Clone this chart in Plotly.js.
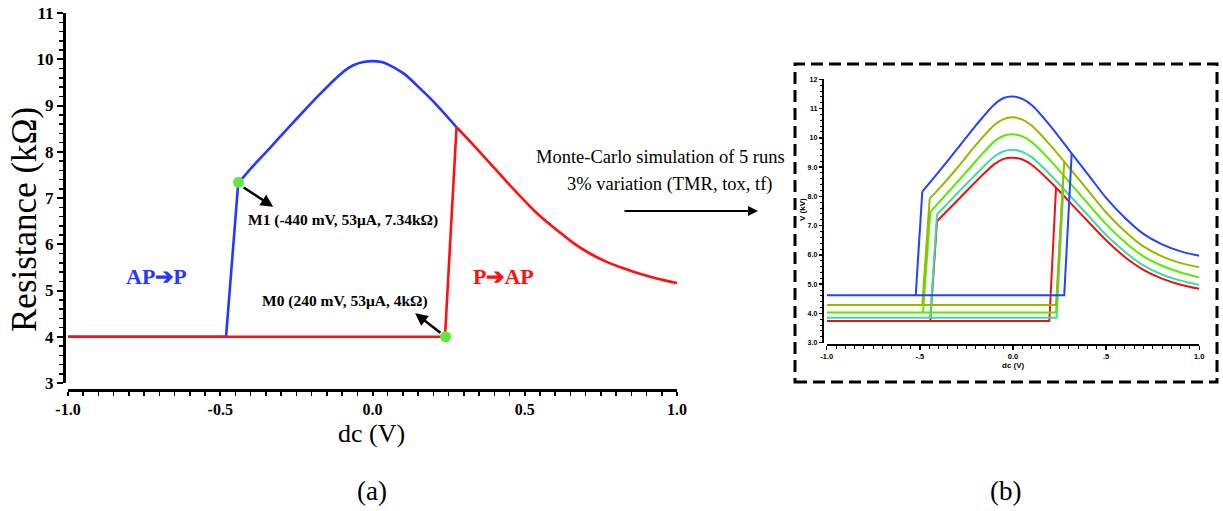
<!DOCTYPE html>
<html>
<head>
<meta charset="utf-8">
<script src="https://cdn.plot.ly/plotly-3.0.1.min.js"></script>
<style>html,body{margin:0;padding:0;background:#fff;}#chart{width:1223px;height:511px;}</style>
</head>
<body>
<div id="chart"></div>
<script>
// ---- Panel (a): measured resistance hysteresis ----
const apToPX = [-1.0, -0.481, -0.441, -0.391, -0.337, -0.282, -0.227, -0.172, -0.118, -0.09, -0.063, -0.03, 0.0, 0.03, 0.047, 0.101, 0.156, 0.211, 0.276];
const apToPY = [4.0, 4.0, 7.32, 7.70, 8.08, 8.48, 8.87, 9.25, 9.60, 9.76, 9.87, 9.94, 9.96, 9.94, 9.90, 9.70, 9.37, 9.01, 8.53];
const pToApX = [-1.0, 0.238, 0.276, 0.331, 0.386, 0.441, 0.495, 0.550, 0.605, 0.659, 0.714, 0.769, 0.824, 0.878, 0.933, 1.0];
const pToApY = [4.0, 4.0, 8.53, 8.15, 7.75, 7.35, 6.97, 6.61, 6.31, 6.03, 5.80, 5.62, 5.48, 5.36, 5.26, 5.16];
const markerX = [-0.44, 0.24];
const markerY = [7.34, 4.0];
const mainXTicks = [-1, -0.5, 0, 0.5, 1];
const mainXTickText = ['-1.0', '-0.5', '0.0', '0.5', '1.0'];
const mainYTicks = [3, 4, 5, 6, 7, 8, 9, 10, 11];
const mainYTickText = ['3', '4', '5', '6', '7', '8', '9', '10', '11'];

// ---- Panel (b): Monte-Carlo, 5 runs ----
// each run: [low line start, right switch bottom, right switch top, null, left switch bottom, left switch top, curve ...]
const mcBlueX = [-1.0, 0.275, 0.315, null, -0.522, -0.487, -0.4, -0.3, -0.2, -0.1, -0.05, 0, 0.05, 0.1, 0.2, 0.3, 0.4, 0.5, 0.6, 0.7, 0.8, 0.9, 1.0];
const mcBlueY = [4.62, 4.62, 9.47, null, 4.62, 8.16, 8.83, 9.62, 10.42, 11.14, 11.36, 11.41, 11.33, 11.12, 10.41, 9.59, 8.77, 7.95, 7.27, 6.72, 6.36, 6.12, 5.97];
const mcOliveX = [-1.0, 0.231, 0.275, null, -0.487, -0.447, -0.4, -0.3, -0.2, -0.1, -0.05, 0, 0.05, 0.1, 0.2, 0.3, 0.4, 0.5, 0.6, 0.7, 0.8, 0.9, 1.0];
const mcOliveY = [4.29, 4.29, 9.18, null, 4.29, 7.93, 8.24, 8.97, 9.75, 10.44, 10.64, 10.70, 10.62, 10.42, 9.75, 8.99, 8.22, 7.45, 6.81, 6.29, 5.95, 5.72, 5.58];
const mcGreenX = [-1.0, 0.231, 0.27, null, -0.483, -0.444, -0.4, -0.3, -0.2, -0.1, -0.05, 0, 0.05, 0.1, 0.2, 0.3, 0.4, 0.5, 0.6, 0.7, 0.8, 0.9, 1.0];
const mcGreenY = [4.03, 4.03, 8.72, null, 4.03, 7.46, 7.78, 8.48, 9.20, 9.88, 10.07, 10.12, 10.05, 9.86, 9.23, 8.50, 7.77, 7.05, 6.44, 5.95, 5.63, 5.40, 5.23];
const mcTealX = [-1.0, 0.234, 0.27, null, -0.444, -0.408, -0.4, -0.3, -0.2, -0.1, -0.05, 0, 0.05, 0.1, 0.2, 0.3, 0.4, 0.5, 0.6, 0.7, 0.8, 0.9, 1.0];
const mcTealY = [3.85, 3.85, 8.26, null, 3.85, 7.39, 7.44, 8.10, 8.75, 9.36, 9.54, 9.59, 9.52, 9.34, 8.74, 8.06, 7.37, 6.68, 6.11, 5.64, 5.33, 5.12, 4.97];
const mcRedX = [-1.0, 0.195, 0.231, null, -0.444, -0.408, -0.4, -0.3, -0.2, -0.1, -0.05, 0, 0.05, 0.1, 0.2, 0.3, 0.4, 0.5, 0.6, 0.7, 0.8, 0.9, 1.0];
const mcRedY = [3.74, 3.74, 8.31, null, 3.74, 7.14, 7.20, 7.85, 8.50, 9.10, 9.28, 9.32, 9.26, 9.08, 8.50, 7.83, 7.16, 6.50, 5.93, 5.49, 5.19, 4.98, 4.84];
const mcXTicks = [-1, -0.5, 0, 0.5, 1];
const mcXTickText = ['-1.0', '-.5', '0.0', '.5', '1.0'];
const mcYTicks = [3, 4, 5, 6, 7, 8, 9, 10, 11, 12];
const mcYTickText = ['3.0', '4.0', '5.0', '6.0', '7.0', '8.0', '9.0', '10', '11', '12'];

const W = 1223, H = 511;
const px = v => v / W;
const py = v => (H - v) / H;
const SERIF = 'Liberation Serif, Times New Roman, serif';
const SANS = 'Liberation Sans, Arial, sans-serif';

function minorVals(a, b, step) {
  const out = [];
  const n = Math.round((b - a) / step);
  for (let i = 0; i <= n; i++) out.push(+(a + i * step).toFixed(4));
  return out;
}

const traces = [];
function addLoop(xs, ys, xa, ya, color, width, curveStart) {
  traces.push({x: xs.slice(0, curveStart + 1), y: ys.slice(0, curveStart + 1), xaxis: xa, yaxis: ya,
    mode: 'lines', connectgaps: false, line: {color: color, width: width}, hoverinfo: 'skip'});
  traces.push({x: xs.slice(curveStart), y: ys.slice(curveStart), xaxis: xa, yaxis: ya,
    mode: 'lines', line: {color: color, width: width, shape: 'spline', smoothing: 0.9}, hoverinfo: 'skip'});
}
addLoop(apToPX, apToPY, 'x', 'y', '#2438ff', 2.6, 2);
addLoop(pToApX, pToApY, 'x', 'y', '#ff1010', 2.6, 2);
traces.push({x: markerX, y: markerY, xaxis: 'x', yaxis: 'y', mode: 'markers', marker: {color: '#62e83c', size: 11}, hoverinfo: 'skip'});
addLoop(mcRedX, mcRedY, 'x2', 'y2', '#ee1111', 2, 5);
addLoop(mcTealX, mcTealY, 'x2', 'y2', '#3ddba8', 2, 5);
addLoop(mcGreenX, mcGreenY, 'x2', 'y2', '#5aea00', 2, 5);
addLoop(mcOliveX, mcOliveY, 'x2', 'y2', '#99b800', 2, 5);
addLoop(mcBlueX, mcBlueY, 'x2', 'y2', '#2244ff', 2, 5);

const axisCommon = {showgrid: false, zeroline: false, showline: true, linecolor: '#000', ticks: 'outside', tickcolor: '#000', fixedrange: true};

const layout = {
  width: W, height: H,
  margin: {l: 0, r: 0, t: 0, b: 0},
  paper_bgcolor: '#fff', plot_bgcolor: 'rgba(0,0,0,0)',
  showlegend: false,
  xaxis: Object.assign({}, axisCommon, {
    domain: [px(68), px(677)], range: [-1, 1], anchor: 'free', position: py(390),
    linewidth: 2.5, tickwidth: 2, ticklen: 4,
    tickmode: 'array', tickvals: mainXTicks, ticktext: mainXTickText,
    minor: {tickmode: 'array', tickvals: minorVals(-1, 1, 0.05), ticks: 'outside', ticklen: 4, tickwidth: 1.5, tickcolor: '#000', showgrid: false},
    tickfont: {family: SERIF, size: 16, color: '#000', weight: 'bold'}
  }),
  yaxis: Object.assign({}, axisCommon, {
    domain: [py(383), py(13)], range: [3, 11], anchor: 'free', position: px(64),
    linewidth: 2.5, tickwidth: 2, ticklen: 6,
    tickmode: 'array', tickvals: mainYTicks, ticktext: mainYTickText,
    minor: {tickmode: 'array', tickvals: minorVals(3, 11, 0.2), ticks: 'outside', ticklen: 4, tickwidth: 1.5, tickcolor: '#000', showgrid: false},
    tickfont: {family: SERIF, size: 17, color: '#000', weight: 'bold'}
  }),
  xaxis2: Object.assign({}, axisCommon, {
    domain: [px(826.7), px(1199.3)], range: [-1, 1], anchor: 'free', position: py(345),
    linewidth: 2, tickwidth: 1.5, ticklen: 4,
    tickmode: 'array', tickvals: mcXTicks, ticktext: mcXTickText,
    minor: {tickmode: 'array', tickvals: minorVals(-1, 1, 0.05), ticks: 'outside', ticklen: 3, tickwidth: 1, tickcolor: '#000', showgrid: false},
    tickfont: {family: SANS, size: 7.5, color: '#000', weight: 'bold'}
  }),
  yaxis2: Object.assign({}, axisCommon, {
    domain: [py(342.7), py(79.3)], range: [3, 12], anchor: 'free', position: px(822.7),
    linewidth: 2, tickwidth: 1.5, ticklen: 3,
    tickmode: 'array', tickvals: mcYTicks, ticktext: mcYTickText,
    minor: {tickmode: 'array', tickvals: minorVals(3, 12, 0.2), ticks: 'outside', ticklen: 2, tickwidth: 1, tickcolor: '#000', showgrid: false},
    tickfont: {family: SANS, size: 7, color: '#000', weight: 'bold'}
  }),
  shapes: [
    {type: 'rect', xref: 'paper', yref: 'paper', x0: px(795), x1: px(1217), y0: py(382), y1: py(64),
     line: {color: '#000', width: 3, dash: '12px,6px'}, fillcolor: 'rgba(0,0,0,0)'}
  ],
  annotations: [
    {xref: 'paper', yref: 'paper', x: px(372), y: py(433), text: 'dc (V)', showarrow: false,
     font: {family: SERIF, size: 26, color: '#000'}, xanchor: 'center', yanchor: 'middle'},
    {xref: 'paper', yref: 'paper', x: px(24), y: py(220), text: 'Resistance (kΩ)', showarrow: false, textangle: -90,
     font: {family: SERIF, size: 35, color: '#000'}, xanchor: 'center', yanchor: 'middle'},
    {xref: 'paper', yref: 'paper', x: px(1013), y: py(365), text: 'dc (V)', showarrow: false,
     font: {family: SANS, size: 8, color: '#000', weight: 'bold'}, xanchor: 'center', yanchor: 'middle'},
    {xref: 'paper', yref: 'paper', x: px(802), y: py(210), text: 'V (kV)', showarrow: false, textangle: -90,
     font: {family: SANS, size: 8, color: '#000', weight: 'bold'}, xanchor: 'center', yanchor: 'middle'},
    {xref: 'x', yref: 'y', x: -0.326, y: 6.81, axref: 'x', ayref: 'y', ax: -0.428, ay: 7.25,
     showarrow: true, arrowhead: 2, arrowsize: 1, arrowwidth: 2.5, arrowcolor: '#000', text: ''},
    {xref: 'x', yref: 'y', x: 0.140, y: 4.51, axref: 'x', ayref: 'y', ax: 0.228, ay: 4.06,
     showarrow: true, arrowhead: 2, arrowsize: 1, arrowwidth: 2.5, arrowcolor: '#000', text: ''},
    {xref: 'paper', yref: 'paper', x: px(343), y: py(220), text: 'M1 (-440 mV, 53μA, 7.34kΩ)', showarrow: false,
     font: {family: SERIF, size: 15.5, color: '#000', weight: 'bold'}, xanchor: 'center', yanchor: 'middle'},
    {xref: 'paper', yref: 'paper', x: px(345), y: py(301), text: 'M0 (240 mV, 53μA, 4kΩ)', showarrow: false,
     font: {family: SERIF, size: 15.5, color: '#000', weight: 'bold'}, xanchor: 'center', yanchor: 'middle'},
    {xref: 'paper', yref: 'paper', x: px(156), y: py(276), text: 'AP➔P', showarrow: false,
     font: {family: SERIF, size: 22, color: '#2438ff', weight: 'bold'}, xanchor: 'center', yanchor: 'middle'},
    {xref: 'paper', yref: 'paper', x: px(503), y: py(276), text: 'P➔AP', showarrow: false,
     font: {family: SERIF, size: 22, color: '#ff1010', weight: 'bold'}, xanchor: 'center', yanchor: 'middle'},
    {xref: 'paper', yref: 'paper', x: px(660), y: py(157), text: 'Monte-Carlo simulation of 5 runs', showarrow: false,
     font: {family: SERIF, size: 18.5, color: '#000'}, xanchor: 'center', yanchor: 'middle'},
    {xref: 'paper', yref: 'paper', x: px(670), y: py(184), text: '3% variation (TMR, tox, tf)', showarrow: false,
     font: {family: SERIF, size: 18.5, color: '#000'}, xanchor: 'center', yanchor: 'middle'},
    {xref: 'paper', yref: 'paper', x: px(758), y: py(211), ax: -135, ay: 0,
     showarrow: true, arrowhead: 2, arrowsize: 1, arrowwidth: 2, arrowcolor: '#000', text: ''},
    {xref: 'paper', yref: 'paper', x: px(372), y: py(491), text: '(a)', showarrow: false,
     font: {family: SERIF, size: 27, color: '#000'}, xanchor: 'center', yanchor: 'middle'},
    {xref: 'paper', yref: 'paper', x: px(1005), y: py(491), text: '(b)', showarrow: false,
     font: {family: SERIF, size: 27, color: '#000'}, xanchor: 'center', yanchor: 'middle'}
  ]
};

Plotly.newPlot('chart', traces, layout, {staticPlot: true, displayModeBar: false});
</script>
</body>
</html>
